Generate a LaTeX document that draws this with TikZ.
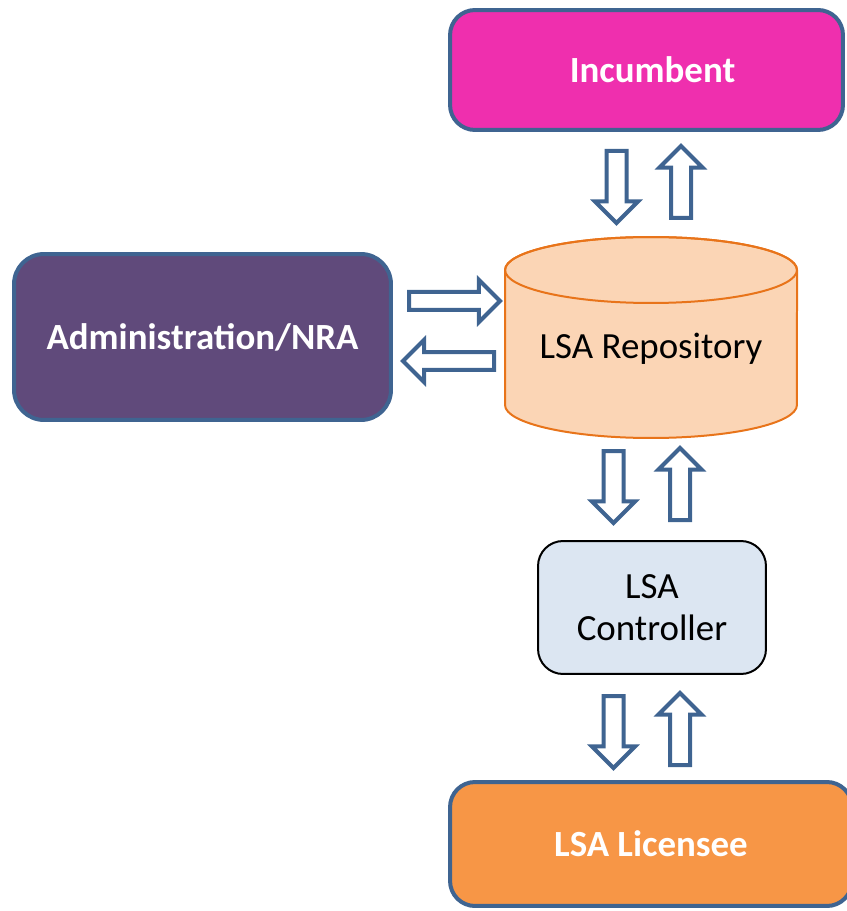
\documentclass[tikz,border=0pt]{standalone}
\usepackage{fontspec}
\setmainfont{Carlito}
\usepackage{tikz}
\usetikzlibrary{shapes.arrows,positioning}

\definecolor{edgeblue}{HTML}{3F6491}
\definecolor{incpink}{HTML}{EF2FAE}
\definecolor{nrapurple}{HTML}{604A7B}
\definecolor{licorange}{HTML}{F79646}
\definecolor{repofill}{HTML}{FBD5B5}
\definecolor{repoline}{HTML}{E8741A}
\definecolor{ctrlfill}{HTML}{DCE6F2}

\tikzset{
  bigbox/.style={draw=edgeblue, line width=0.08cm, rounded corners=0.5cm, text=white, font=\fontsize{21}{25}\selectfont\bfseries, inner sep=0pt},
  blockarrow/.style={single arrow, draw=edgeblue, fill=white, line width=0.08cm, inner xsep=0pt, inner ysep=0.16cm, single arrow head extend=0.23cm, minimum height=1.44cm, anchor=tail},
  flatarrow/.style={blockarrow, inner ysep=0.14cm, single arrow head extend=0.24cm, minimum height=1.82cm}
}

\begin{document}
\begin{tikzpicture}[x=0.02cm, y=-0.02cm]

\useasboundingbox (0,0) rectangle (846,911);

\node(inc)[bigbox, fill=incpink, minimum width=7.86cm, minimum height=2.4cm] at (646.5,70) {\hspace*{0.24cm}Incumbent};

\node(nra)[bigbox, fill=nrapurple, rounded corners=0.6cm, minimum width=7.54cm, minimum height=3.32cm] at (202.5,337) {Administration/NRA};

\node(lic)[bigbox, fill=licorange, minimum width=8.04cm, minimum height=2.48cm] at (651,844) {LSA Licensee};

\node(ctrl)[draw=black, line width=0.04cm, fill=ctrlfill, rounded corners=0.5cm, minimum width=4.56cm, minimum height=2.66cm, align=center, font=\fontsize{21}{24}\selectfont] at (652,607.5) {LSA\\Controller};

% repository drawn as a cylinder
\path[fill=repofill, draw=repoline, line width=0.04cm] (505,270) -- (505,405) arc[start angle=180, end angle=360, x radius=2.92cm, y radius=0.66cm] -- (797,270) arc[start angle=0, end angle=180, x radius=2.92cm, y radius=0.66cm] -- cycle;

\draw[repoline, line width=0.04cm] (651,270) ellipse [x radius=2.92cm, y radius=0.66cm];

\node(repo)[font=\fontsize{21}{25}\selectfont] at (651,349) {LSA Repository};

% block arrows, placed by their tails
\node(incdown)[blockarrow, rotate=-90] at (616.5,149) {};

\node(incup)[blockarrow, rotate=90] at (681,220) {};

\node(nraright)[flatarrow] at (407,301) {};

\node(nraleft)[flatarrow, rotate=180] at (496,361) {};

\node(ctrldown)[blockarrow, rotate=-90] at (613.5,449) {};

\node(ctrlup)[blockarrow, rotate=90] at (680,522) {};

\node(licdown)[blockarrow, rotate=-90] at (613.5,694) {};

\node(licup)[blockarrow, rotate=90] at (680,767) {};

\end{tikzpicture}
\end{document}
